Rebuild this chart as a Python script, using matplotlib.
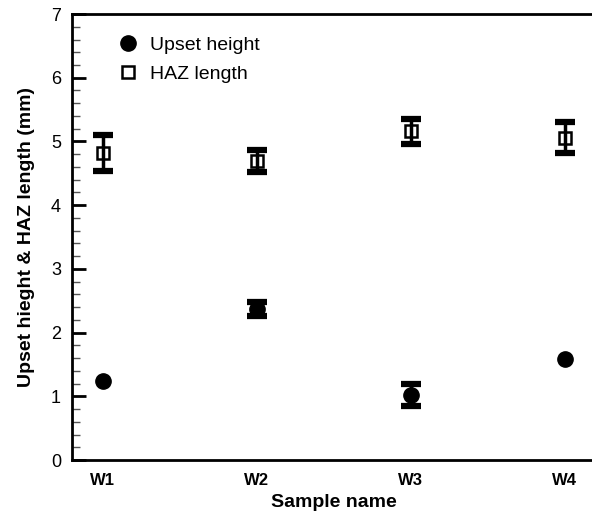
import matplotlib.pyplot as plt
import numpy as np
from matplotlib.ticker import MultipleLocator

plt.rcParams['font.family'] = ['Liberation Sans', 'DejaVu Sans']

samples = ['W1', 'W2', 'W3', 'W4']
upset = [1.24, 2.37, 1.02, 1.58]
upset_err = [np.nan, 0.11, 0.17, np.nan]
haz = [4.82, 4.69, 5.16, 5.06]
haz_err = [0.28, 0.17, 0.20, 0.24]

fig = plt.figure(figsize=(5.92, 5.16), dpi=100)
ax = fig.add_axes([0.1216, 0.1085, 0.884, 0.8643])

x = np.arange(1, len(samples) + 1)

# markers first, error bars drawn over them
ax.plot(x, upset, 'o', color='black', markersize=11, label='Upset height', zorder=2)
ax.plot(x, haz, 's', mfc='white', mec='black', mew=1.8, markersize=9,
        label='HAZ length', zorder=2)
ax.errorbar(x, upset, yerr=upset_err, fmt='none', ecolor='black',
            elinewidth=2.5, capsize=7, capthick=4.5, zorder=3)
ax.errorbar(x, haz, yerr=haz_err, fmt='none', ecolor='black',
            elinewidth=2.5, capsize=7, capthick=4.5, zorder=3)

ax.set_xlim(0.8, 4.2)
ax.set_ylim(0, 7)
ax.set_xticks(x)
ax.set_xticklabels(samples, fontweight='bold', fontsize=12)
ax.yaxis.set_major_locator(MultipleLocator(1))
ax.yaxis.set_minor_locator(MultipleLocator(0.2))
ax.tick_params(axis='y', which='major', direction='in', length=10, width=2,
               labelsize=13, pad=8)
ax.tick_params(axis='y', which='minor', direction='in', length=6, width=1, color='#555555')
ax.tick_params(axis='x', length=0, pad=9)

for s in ['left', 'bottom', 'top']:
    ax.spines[s].set_linewidth(2)
ax.spines['right'].set_visible(False)

ax.set_xlabel('Sample name', fontweight='bold', fontsize=14, labelpad=5)
ax.set_ylabel('Upset hieght & HAZ length (mm)', fontweight='bold', fontsize=14, labelpad=11)

ax.legend(loc='upper left', bbox_to_anchor=(0.055, 0.99), frameon=False,
          fontsize=14, handletextpad=0.65, labelspacing=0.6, handlelength=1.0)

fig.savefig('out.png', dpi=100)
